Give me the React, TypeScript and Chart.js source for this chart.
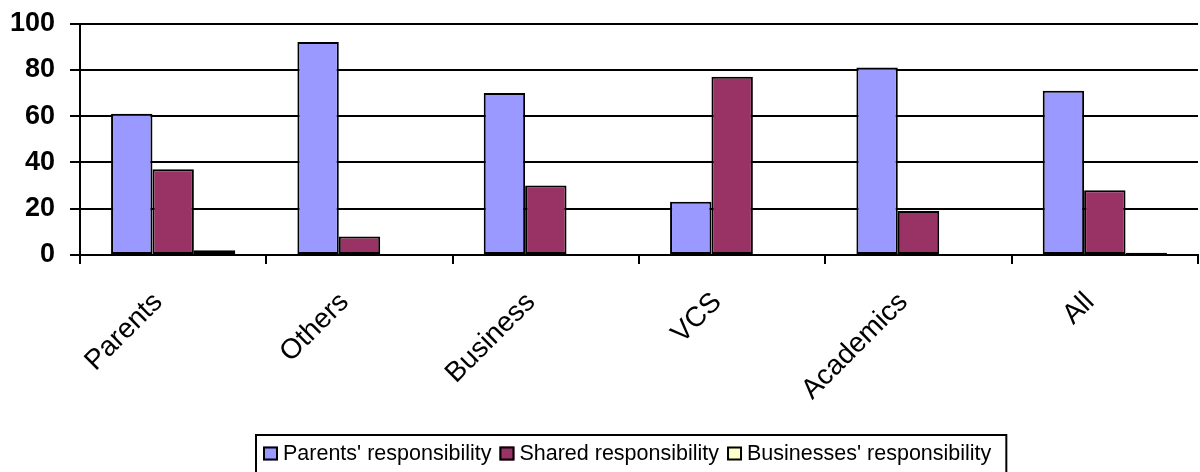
import React, { useEffect, useRef } from "react";
import { Chart, registerables } from "chart.js";

Chart.register(...registerables);

const categories = ["Parents", "Others", "Business", "VCS", "Academics", "All"];
const parentsResp = [61, 92, 70, 23, 81, 71];
const sharedResp = [37, 8, 30, 77, 19, 28];
const businessResp = [2, 0, 0, 0, 0, 1];
const yTicks = [0, 20, 40, 60, 80, 100];

const FONT = '"Liberation Sans", Arial, sans-serif';

const boxLegend = {
  id: "boxLegend",
  afterDraw(chart: any) {
    const ctx = chart.ctx as CanvasRenderingContext2D;
    ctx.save();
    ctx.font = `21.5px ${FONT}`;
    ctx.textBaseline = "middle";
    const y = 453.5;
    let x = 263;
    let end = x;
    chart.data.datasets.forEach((ds: any) => {
      ctx.fillStyle = ds.backgroundColor;
      ctx.fillRect(x, y - 7, 15, 14);
      ctx.strokeStyle = "#000";
      ctx.lineWidth = 2;
      ctx.strokeRect(x + 1, y - 6, 13, 12);
      ctx.fillStyle = "#000";
      ctx.fillText(ds.label, x + 20, y + 1);
      end = x + 20 + ctx.measureText(ds.label).width;
      x = end + 8;
    });
    ctx.strokeStyle = "#000";
    ctx.lineWidth = 2;
    ctx.strokeRect(256, 435, end + 15 - 256, 60);
    ctx.restore();
  },
};

export default function App() {
  const ref = useRef<HTMLCanvasElement>(null);
  useEffect(() => {
    if (!ref.current) return;
    const chart = new Chart(ref.current, {
      type: "bar",
      data: {
        labels: categories,
        datasets: [
          {
            label: "Parents' responsibility",
            data: parentsResp,
            backgroundColor: "#9999FF",
            borderColor: "#000",
            borderWidth: 2,
            borderSkipped: false,
          },
          {
            label: "Shared responsibility",
            data: sharedResp,
            backgroundColor: "#993366",
            borderColor: "#000",
            borderWidth: 2,
            borderSkipped: false,
          },
          {
            label: "Businesses' responsibility",
            data: businessResp,
            backgroundColor: "#FFFFCC",
            borderColor: "#000",
            borderWidth: 2,
            borderSkipped: false,
          },
        ],
      },
      options: {
        responsive: false,
        animation: false,
        layout: { padding: { top: 23.5, right: 2, left: 0, bottom: 0 } },
        datasets: { bar: { categoryPercentage: 3 / 4.5, barPercentage: 1 } },
        plugins: {
          legend: { display: false },
          tooltip: { enabled: false },
        },
        scales: {
          x: {
            grid: {
              drawOnChartArea: false,
              drawTicks: true,
              tickLength: 9,
              color: "#000",
              lineWidth: 2,
              offset: true,
            },
            border: { color: "#000", width: 2 },
            ticks: {
              autoSkip: false,
              minRotation: 45,
              maxRotation: 45,
              padding: 22,
              labelOffset: -15,
              color: "#000",
              font: { family: FONT, size: 28 },
            },
            afterFit: (scale: any) => {
              scale.height = 217;
              scale.paddingLeft = 0;
              scale.paddingRight = 0;
            },
          },
          y: {
            min: 0,
            max: 100,
            afterBuildTicks: (scale: any) => {
              scale.ticks = yTicks.map((v) => ({ value: v }));
            },
            grid: {
              color: "#000",
              lineWidth: 2,
              tickLength: 10,
            },
            border: { color: "#000", width: 2 },
            ticks: {
              padding: 15,
              color: "#000",
              font: { family: FONT, size: 27, weight: "bold" },
            },
            afterFit: (scale: any) => {
              scale.width = 80;
              scale.paddingTop = 0;
              scale.paddingBottom = 0;
            },
          },
        },
      },
      plugins: [boxLegend],
    });
    return () => chart.destroy();
  }, []);
  return (
    <div style={{ position: "absolute", left: 0, top: 0, width: 1200, height: 472, background: "#fff" }}>
      <canvas ref={ref} width={1200} height={472} style={{ display: "block" }} />
    </div>
  );
}
